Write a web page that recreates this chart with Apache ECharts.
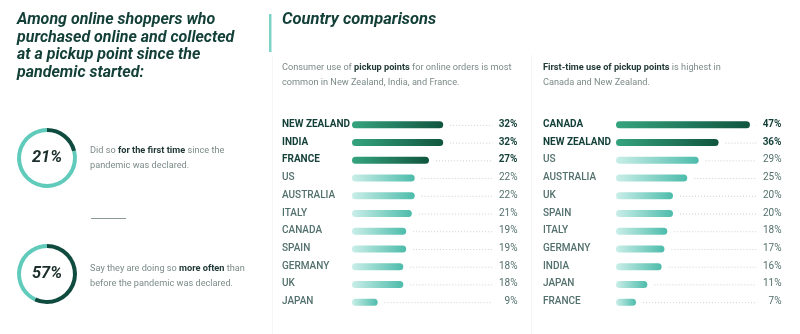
<!DOCTYPE html>
<html>
<head>
<meta charset="utf-8">
<script src="https://cdn.jsdelivr.net/npm/echarts@6/dist/echarts.min.js"></script>
<style>
html,body{margin:0;padding:0;background:#fff;}
#main{width:800px;height:334px;}
</style>
</head>
<body>
<div id="main"></div>
<script>
// ---- data ----
const donutValues = [21, 57];
const leftCategories = ['NEW ZEALAND','INDIA','FRANCE','US','AUSTRALIA','ITALY','CANADA','SPAIN','GERMANY','UK','JAPAN'];
const leftValues = [32, 32, 27, 22, 22, 21, 19, 19, 18, 18, 9];
const leftHighlight = 3;
const rightCategories = ['CANADA','NEW ZEALAND','US','AUSTRALIA','UK','SPAIN','ITALY','GERMANY','INDIA','JAPAN','FRANCE'];
const rightValues = [47, 36, 29, 25, 20, 20, 18, 17, 16, 11, 7];
const rightHighlight = 2;

const AXIS_MAX = 50;
const DARK = '#123f37';
const GRAY = '#7c8b89';
const LABEL_GRAY = '#52706c';
const FONT = 'Roboto, "Open Sans", sans-serif';

const chart = echarts.init(document.getElementById('main'), null, {renderer:'canvas'});

function barColor(hl){
  return hl
    ? new echarts.graphic.LinearGradient(0,0,1,0,[{offset:0,color:'#35a47f'},{offset:1,color:'#10553f'}])
    : new echarts.graphic.LinearGradient(0,0,1,0,[{offset:0,color:'#c9eee8'},{offset:1,color:'#4dbcab'}]);
}
function barData(vals, n){
  return vals.map((v,i)=>({value:v, itemStyle:{color:barColor(i<n)}}));
}
function leaderSeries(vals, n, xIdx, yIdx){
  return {
    type:'custom', xAxisIndex:xIdx, yAxisIndex:yIdx, silent:true,
    data: vals.map((v,i)=>[v,i]),
    encode:{x:0,y:1},
    renderItem:function(params, api){
      const v = api.value(0), idx = api.value(1);
      const s = api.coord([v, idx]);
      const e = api.coord([AXIS_MAX, idx]);
      const hl = idx < n;
      return {type:'group', children:[
        {type:'line', shape:{x1:s[0]+7, y1:s[1]+0.5, x2:e[0]-2, y2:s[1]+0.5},
         style:{stroke:'#c9d1d0', lineWidth:1, lineDash:[1,2]}},
        {type:'text', style:{text:v+'%', x:e[0]+23, y:s[1]-0.5, align:'right', verticalAlign:'middle',
          font:(hl?'bold ':'')+'10px '+FONT, fill: hl?DARK:LABEL_GRAY}}
      ]};
    }
  };
}
function yAxisFor(cats, n, margin, gIdx){
  return {
    type:'category', gridIndex:gIdx, data:cats, inverse:true,
    axisLine:{show:false}, axisTick:{show:false},
    axisLabel:{
      margin:margin, align:'left', verticalAlign:'middle', padding:[0,0,1,0],
      formatter:function(val, i){ return (i<n?'{h|':'{n|')+val+'}'; },
      rich:{
        h:{fontFamily:FONT, fontWeight:'bold', fontSize:10, color:DARK},
        n:{fontFamily:FONT, fontWeight:500, fontSize:10, color:LABEL_GRAY}
      }
    }
  };
}

const bodyRich = {
  b:{fontFamily:FONT, fontWeight:'bold', fontSize:9.2, color:'#223a37', lineHeight:15},
};
function bodyText(text, left, top){
  return {text:text, left:left, top:top, padding:0,
    textStyle:{fontFamily:FONT, fontWeight:'normal', fontSize:9.2, color:GRAY, lineHeight:15, rich:bodyRich}};
}

const option = {
  backgroundColor:'#ffffff',
  animation:false,
  title:[
    {text:'Among online shoppers who\npurchased online and collected\nat a pickup point since the\npandemic started:', left:17, top:11, padding:0,
     textStyle:{fontFamily:FONT, fontWeight:'bold', fontStyle:'italic', fontSize:16, lineHeight:17.7, color:DARK}},
    {text:'Country comparisons', left:282, top:11, padding:0,
     textStyle:{fontFamily:FONT, fontWeight:'bold', fontStyle:'italic', fontSize:16.5, color:DARK}},
    bodyText('Did so {b|for the first time} since the\npandemic was declared.', 90, 143),
    bodyText('Say they are doing so {b|more often} than\nbefore the pandemic was declared.', 90, 261),
    bodyText('Consumer use of {b|pickup points} for online orders is most\ncommon in New Zealand, India, and France.', 282, 60),
    bodyText('{b|First-time use of pickup points} is highest in\nCanada and New Zealand.', 543, 60)
  ],
  graphic:[
    {type:'rect', shape:{x:269, y:14, width:2.5, height:38}, style:{fill:'#7fd3c6'}},
    {type:'line', shape:{x1:91, y1:218.5, x2:126, y2:218.5}, style:{stroke:'#8a9a98', lineWidth:1}},
    {type:'line', shape:{x1:531.5, y1:55, x2:531.5, y2:334}, style:{stroke:'#f3f5f5', lineWidth:1}},
    {type:'line', shape:{x1:272.5, y1:55, x2:272.5, y2:334}, style:{stroke:'#f5f7f7', lineWidth:1}}
  ],
  grid:[
    {left:352, top:116, width:142.5, height:195, containLabel:false},
    {left:616, top:116, width:142.5, height:195, containLabel:false}
  ],
  xAxis:[
    {type:'value', gridIndex:0, min:0, max:AXIS_MAX, show:false},
    {type:'value', gridIndex:1, min:0, max:AXIS_MAX, show:false}
  ],
  yAxis:[
    yAxisFor(leftCategories, leftHighlight, 70, 0),
    yAxisFor(rightCategories, rightHighlight, 73, 1)
  ],
  series:[
    {type:'pie', radius:[26,30], center:[47,158], startAngle:90, clockwise:true, silent:true,
     label:{show:false}, labelLine:{show:false},
     data:[{value:donutValues[0], itemStyle:{color:'#0f4b3f'}}, {value:100-donutValues[0], itemStyle:{color:'#60cbbb'}}]},
    {type:'pie', radius:[26,30], center:[47,274], startAngle:90, clockwise:true, silent:true,
     label:{show:false}, labelLine:{show:false},
     data:[{value:donutValues[1], itemStyle:{color:'#0f4b3f'}}, {value:100-donutValues[1], itemStyle:{color:'#60cbbb'}}]},
    {type:'pie', radius:[0,0], center:[47,158], silent:true,
     label:{show:true, position:'center', formatter:donutValues[0]+'%', fontFamily:FONT, fontWeight:'bold', fontStyle:'italic', fontSize:16.5, color:'#1b2e2b'},
     data:[{value:1}]},
    {type:'pie', radius:[0,0], center:[47,274], silent:true,
     label:{show:true, position:'center', formatter:donutValues[1]+'%', fontFamily:FONT, fontWeight:'bold', fontStyle:'italic', fontSize:16.5, color:'#1b2e2b'},
     data:[{value:1}]},
    {type:'bar', xAxisIndex:0, yAxisIndex:0, barWidth:7, itemStyle:{borderRadius:3.5}, silent:true,
     data:barData(leftValues, leftHighlight)},
    {type:'bar', xAxisIndex:1, yAxisIndex:1, barWidth:7, itemStyle:{borderRadius:3.5}, silent:true,
     data:barData(rightValues, rightHighlight)},
    leaderSeries(leftValues, leftHighlight, 0, 0),
    leaderSeries(rightValues, rightHighlight, 1, 1)
  ]
};
chart.setOption(option);
</script>
</body>
</html>
